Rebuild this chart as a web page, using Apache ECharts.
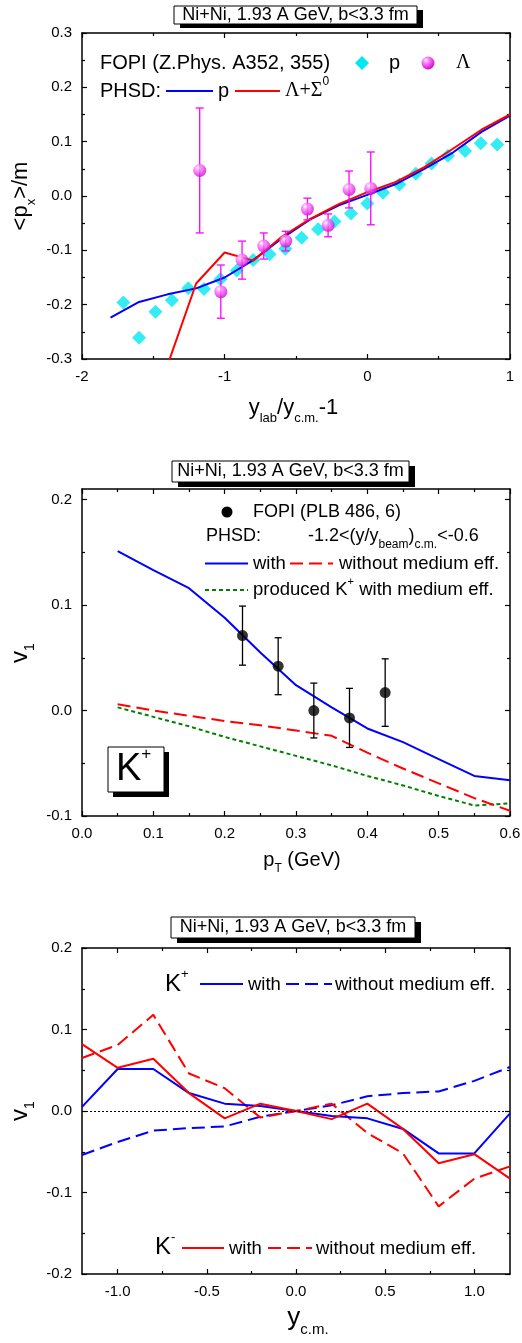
<!DOCTYPE html>
<html><head><meta charset="utf-8">
<script src="https://cdn.jsdelivr.net/npm/echarts@6/dist/echarts.min.js"></script>
<style>html,body{margin:0;padding:0;background:#fff}#c{width:522px;height:1343px}</style>
</head><body><div id="c"></div>
<script>
// ---------- Panel 1: <px>/m vs ylab/ycm-1 ----------
const p1ProtonX = [-1.71,-1.60,-1.485,-1.37,-1.255,-1.145,-1.03,-0.915,-0.80,-0.685,-0.575,-0.46,-0.345,-0.23,-0.115,0.0,0.11,0.225,0.34,0.45,0.565,0.685,0.795,0.91];
const p1ProtonY = [-0.196,-0.261,-0.213,-0.192,-0.170,-0.171,-0.153,-0.137,-0.118,-0.107,-0.097,-0.077,-0.061,-0.047,-0.032,-0.014,0.006,0.021,0.041,0.060,0.074,0.083,0.097,0.095];
const p1LambdaX = [-1.175,-1.027,-0.878,-0.726,-0.572,-0.42,-0.275,-0.128,0.024];
const p1LambdaY = [0.047,-0.176,-0.118,-0.092,-0.083,-0.024,-0.054,0.012,0.014];
const p1LambdaErr = [0.115,0.049,0.035,0.024,0.018,0.020,0.021,0.034,0.067];
const p1PhsdPX = [-1.8,-1.6,-1.4,-1.2,-1.0,-0.8,-0.6,-0.4,-0.2,0.0,0.2,0.4,0.6,0.8,1.0];
const p1PhsdPY = [-0.224,-0.195,-0.181,-0.170,-0.150,-0.118,-0.078,-0.043,-0.017,0.002,0.022,0.050,0.080,0.118,0.148];
const p1PhsdLX = [-1.4,-1.2,-1.0,-0.8,-0.6,-0.4,-0.2,0.0,0.2,0.4,0.6,0.8,1.0];
const p1PhsdLY = [-0.311,-0.161,-0.104,-0.119,-0.075,-0.042,-0.015,0.007,0.026,0.053,0.087,0.122,0.150];
const p1XMajor = [-2,-1,0,1], p1XMinor = [-1.5,-0.5,0.5];
const p1YMajor = [-0.3,-0.2,-0.1,0,0.1,0.2,0.3], p1YMinor = [-0.25,-0.15,-0.05,0.05,0.15,0.25];

// ---------- Panel 2: K+ v1 vs pT ----------
const p2FopiX = [0.225,0.275,0.325,0.375,0.425];
const p2FopiY = [0.071,0.042,0.000,-0.007,0.017];
const p2FopiErr = [0.028,0.027,0.026,0.028,0.032];
const p2PtX = [0.05,0.10,0.15,0.20,0.25,0.30,0.35,0.40,0.45,0.50,0.55,0.60];
const p2WithY = [0.151,0.133,0.116,0.088,0.055,0.024,0.003,-0.017,-0.030,-0.046,-0.062,-0.066];
const p2WithoutY = [0.006,0.000,-0.005,-0.010,-0.014,-0.019,-0.024,-0.040,-0.055,-0.069,-0.083,-0.095];
const p2ProducedY = [0.003,-0.006,-0.015,-0.025,-0.034,-0.043,-0.052,-0.062,-0.071,-0.081,-0.090,-0.088];
const p2XMajor = [0,0.1,0.2,0.3,0.4,0.5,0.6], p2XMinor = [0.05,0.15,0.25,0.35,0.45,0.55];
const p2YMajor = [-0.1,0,0.1,0.2], p2YMinor = [-0.05,0.05,0.15];

// ---------- Panel 3: v1 vs ycm ----------
const p3X = [-1.2,-1.0,-0.8,-0.6,-0.4,-0.2,0.0,0.2,0.4,0.6,0.8,1.0,1.2];
const p3KpWith = [0.005,0.0515,0.0515,0.022,0.009,0.006,0.0,-0.006,-0.009,-0.022,-0.052,-0.052,-0.003];
const p3KpWithout = [-0.054,-0.038,-0.024,-0.021,-0.019,-0.007,0.0,0.007,0.018,0.022,0.024,0.037,0.054];
const p3KmWith = [0.082,0.053,0.064,0.022,-0.009,0.009,0.0,-0.010,0.009,-0.022,-0.064,-0.053,-0.083];
const p3KmWithout = [0.065,0.081,0.118,0.046,0.028,-0.008,0.0,0.009,-0.027,-0.052,-0.117,-0.083,-0.068];
const p3XMajor = [-1,-0.5,0,0.5,1], p3XMinor = [-0.75,-0.25,0.25,0.75];
const p3YMajor = [-0.2,-0.1,0,0.1,0.2], p3YMinor = [-0.15,-0.05,0.05,0.15];

const FONT = "'Liberation Sans', Arial, sans-serif";
const SERIF = "'Liberation Serif', 'Times New Roman', serif";
const zip = (a, b) => a.map((v, i) => [v, b[i]]);
const errData = (x, y, e) => x.map((v, i) => [v, y[i] - e[i], y[i] + e[i]]);
const fmt1 = v => (Math.abs(v) < 1e-9 ? 0 : v).toFixed(1);
const fmt0 = v => String(Math.round(v));

function axisSet(gi, dim, min, max, majors, minors, fmt) {
  const pos = dim === 'x' ? ['bottom', 'top'] : ['left', 'right'];
  const base = {type: 'value', gridIndex: gi, min: min, max: max, splitLine: {show: false}, minorTick: {show: false}};
  const line = {show: true, onZero: false, lineStyle: {color: '#000', width: 1.5}};
  const noLine = {show: false, onZero: false};
  const tickStyle = {color: '#000', width: 1.2};
  const major = {show: true, inside: true, length: 5, customValues: majors, lineStyle: tickStyle};
  const minor = {show: true, inside: true, length: 3, customValues: minors, lineStyle: tickStyle};
  return [
    Object.assign({}, base, {position: pos[0], axisLine: line, axisTick: major,
      axisLabel: {show: true, customValues: majors, formatter: fmt, color: '#000', fontSize: 15, fontFamily: FONT, margin: 10}}),
    Object.assign({}, base, {position: pos[1], axisLine: line, axisTick: major, axisLabel: {show: false}}),
    Object.assign({}, base, {position: pos[0], axisLine: noLine, axisTick: minor, axisLabel: {show: false}}),
    Object.assign({}, base, {position: pos[1], axisLine: noLine, axisTick: minor, axisLabel: {show: false}})
  ];
}

function errBar(color, w, cap) {
  return function (params, api) {
    const x = api.value(0), lo = api.value(1), hi = api.value(2);
    const a = api.coord([x, hi]), b = api.coord([x, lo]);
    const st = {stroke: color, lineWidth: w};
    return {type: 'group', children: [
      {type: 'line', shape: {x1: a[0], y1: a[1], x2: b[0], y2: b[1]}, style: st},
      {type: 'line', shape: {x1: a[0] - cap, y1: a[1], x2: a[0] + cap, y2: a[1]}, style: st},
      {type: 'line', shape: {x1: b[0] - cap, y1: b[1], x2: b[0] + cap, y2: b[1]}, style: st}
    ]};
  };
}

const sphereFill = {type: 'radial', x: 0.35, y: 0.3, r: 0.75, global: false,
  colorStops: [{offset: 0, color: '#ffffff'}, {offset: 0.3, color: '#ff80ff'}, {offset: 1, color: '#cc00cc'}]};

function rich(main, sub, lh) {
  return {
    n: {fontSize: main, fontFamily: FONT, lineHeight: lh, verticalAlign: 'middle', fill: '#000', color: '#000'},
    g: {fontSize: main, fontFamily: SERIF, lineHeight: lh, verticalAlign: 'middle', fill: '#000', color: '#000'},
    s: {fontSize: sub, fontFamily: FONT, lineHeight: sub, verticalAlign: 'bottom', fill: '#000', color: '#000'},
    u: {fontSize: sub, fontFamily: FONT, lineHeight: sub, verticalAlign: 'top', fill: '#000', color: '#000'}
  };
}
function rtext(x, y, text, main, sub, lh, align, rot) {
  return {type: 'text', x: x, y: y, rotation: rot || 0, z: 100,
    style: {text: text, rich: rich(main, sub, lh), align: align || 'left', textAlign: align || 'left',
      verticalAlign: 'middle', textVerticalAlign: 'middle', fill: '#000'}};
}
function ptext(x, y, text, size, align) {
  return {type: 'text', x: x, y: y, z: 100,
    style: {text: text, font: size + 'px ' + FONT, fill: '#000', align: align || 'left', textAlign: align || 'left',
      verticalAlign: 'middle', textVerticalAlign: 'middle'}};
}
function box(x, y, w, h, sx, sy) {
  return [
    {type: 'rect', z: 90, shape: {x: x + sx, y: y + sy, width: w, height: h}, style: {fill: '#000'}},
    {type: 'rect', z: 91, shape: {x: x, y: y, width: w, height: h}, style: {fill: '#fff', stroke: '#000', lineWidth: 1}}
  ];
}
function seg(x1, x2, y, color, dash) {
  return {type: 'line', z: 100, shape: {x1: x1, y1: y, x2: x2, y2: y},
    style: {stroke: color, lineWidth: 2, lineDash: dash || null}};
}

const TITLE = 'Ni+Ni, 1.93 A GeV, b<3.3 fm';
const DASH = [13, 6], DOT = [4, 3];

const graphics = [].concat(
  box(174, 6, 243, 18, 6, 4), [ptext(295.5, 15.5, TITLE, 18, 'center')],
  box(172, 461, 237, 21, 6, 5), [ptext(290.5, 471.5, TITLE, 18, 'center')],
  box(171, 917, 244, 21, 6, 5), [ptext(293, 927.5, TITLE, 18, 'center')],
  // panel 1 legend
  [ptext(100, 63, 'FOPI (Z.Phys. A352, 355)', 20),
   {type: 'polygon', z: 100, shape: {points: [[362, 56], [369, 63], [362, 70], [355, 63]]}, style: {fill: '#00e8f0'}},
   ptext(389, 63, 'p', 20),
   {type: 'circle', z: 100, shape: {cx: 428, cy: 63, r: 6.5}, style: {fill: sphereFill}},
   rtext(456, 63, '{g|Λ}', 20, 13, 26),
   ptext(100, 91, 'PHSD:', 20),
   seg(166, 213, 91, '#0000ff'),
   ptext(218, 91, 'p', 20),
   seg(235, 280, 91, '#ff0000'),
   rtext(285, 91, '{g|Λ+Σ}{u|0}', 20, 12, 30)],
  // panel 2 legend
  [{type: 'circle', z: 100, shape: {cx: 227, cy: 512, r: 5.5}, style: {fill: '#000'}},
   ptext(253, 512.5, 'FOPI (PLB 486, 6)', 18),
   ptext(206, 536, 'PHSD:', 18),
   rtext(308, 536, '{n|-1.2<(y/y}{s|beam}{n|)}{s|c.m.}{n|<-0.6}', 18, 12, 30),
   seg(205, 248, 563.5, '#0000ff'),
   ptext(253, 563.5, 'with', 18.5),
   seg(290, 333, 563.5, '#ff0000', DASH),
   ptext(339, 563.5, 'without medium eff.', 18.5),
   seg(205, 248, 590, '#008000', DOT),
   rtext(253, 590, '{n|produced K}{u|+}{n| with medium eff.}', 18.5, 11, 28)],
  box(108, 747, 56, 45, 5, 5),
  [rtext(116, 770, '{n|K}{u|+}', 38, 17, 48)],
  // panel 3 legend
  [rtext(165, 984, '{n|K}{u|+}', 24, 13, 32),
   seg(200, 243, 984, '#0000ff'),
   ptext(248, 985, 'with', 18.5),
   seg(286, 332, 984, '#0000ff', DASH),
   ptext(335, 985, 'without medium eff.', 18.5),
   rtext(155, 1247, '{n|K}{u|-}', 24, 13, 32),
   seg(182, 224, 1248, '#ff0000'),
   ptext(229, 1249, 'with', 18.5),
   seg(268, 312, 1248, '#ff0000', DASH),
   ptext(316, 1249, 'without medium eff.', 18.5)],
  // axis titles
  [rtext(293.5, 408, '{n|y}{s|lab}{n|/y}{s|c.m.}{n|-1}', 22, 13, 33, 'center'),
   rtext(21, 196, '{n|<p}{s|x}{n|>/m}', 22, 13, 33, 'center', Math.PI / 2),
   rtext(20, 653, '{n|v}{s|1}', 24, 14, 34, 'center', Math.PI / 2),
   rtext(302, 860, '{n|p}{s|T}{n| (GeV)}', 20, 12, 30, 'center'),
   rtext(20, 1111, '{n|v}{s|1}', 24, 14, 34, 'center', Math.PI / 2),
   rtext(308, 1318, '{n|y}{s|c.m.}', 26, 15, 38, 'center')]
);

const xAxes = [].concat(
  axisSet(0, 'x', -2, 1, p1XMajor, p1XMinor, fmt0),
  axisSet(1, 'x', 0, 0.6, p2XMajor, p2XMinor, fmt1),
  axisSet(2, 'x', -1.2, 1.2, p3XMajor, p3XMinor, fmt1)
);
const yAxes = [].concat(
  axisSet(0, 'y', -0.3, 0.3, p1YMajor, p1YMinor, fmt1),
  axisSet(1, 'y', -0.1, 0.21, p2YMajor, p2YMinor, fmt1),
  axisSet(2, 'y', -0.2, 0.2, p3YMajor, p3YMinor, fmt1)
);

const lineS = (gi, data, color, dash, z) => ({type: 'line', xAxisIndex: 4 * gi, yAxisIndex: 4 * gi, data: data,
  symbol: 'none', clip: true, z: z || 3, lineStyle: {color: color, width: 2, type: dash || 'solid'}, itemStyle: {color: color}});

const option = {
  animation: false,
  backgroundColor: '#fff',
  grid: [
    {left: 82, right: 12, top: 33, height: 326, outerBoundsMode: 'none'},
    {left: 82, right: 12, top: 489, height: 327, outerBoundsMode: 'none'},
    {left: 82, right: 12, top: 948, height: 326, outerBoundsMode: 'none'}
  ],
  xAxis: xAxes,
  yAxis: yAxes,
  graphic: {elements: graphics},
  series: [
    {type: 'scatter', xAxisIndex: 0, yAxisIndex: 0, data: zip(p1ProtonX, p1ProtonY), symbol: 'diamond',
      symbolSize: 14, itemStyle: {color: '#00e8f0'}, z: 2},
    lineS(0, zip(p1PhsdPX, p1PhsdPY), '#0000ff', null, 3),
    lineS(0, zip(p1PhsdLX, p1PhsdLY), '#ff0000', null, 4),
    {type: 'custom', xAxisIndex: 0, yAxisIndex: 0, data: errData(p1LambdaX, p1LambdaY, p1LambdaErr),
      encode: {x: 0, y: [1, 2]}, renderItem: errBar('#ff00ff', 1.3, 4), z: 5},
    {type: 'scatter', xAxisIndex: 0, yAxisIndex: 0, data: zip(p1LambdaX, p1LambdaY), symbol: 'circle',
      symbolSize: 13, itemStyle: {color: sphereFill}, z: 6},

    lineS(1, zip(p2PtX, p2ProducedY), '#008000', DOT, 3),
    lineS(1, zip(p2PtX, p2WithoutY), '#ff0000', DASH, 3),
    lineS(1, zip(p2PtX, p2WithY), '#0000ff', null, 4),
    {type: 'custom', xAxisIndex: 4, yAxisIndex: 4, data: errData(p2FopiX, p2FopiY, p2FopiErr),
      encode: {x: 0, y: [1, 2]}, renderItem: errBar('#000000', 1.3, 3.5), z: 5},
    {type: 'scatter', xAxisIndex: 4, yAxisIndex: 4, data: zip(p2FopiX, p2FopiY), symbol: 'circle',
      symbolSize: 11, itemStyle: {color: '#000'}, z: 6},

    Object.assign(lineS(2, zip(p3X, p3KpWith), '#0000ff', null, 4), {
      markLine: {silent: true, symbol: 'none', label: {show: false}, animation: false,
        lineStyle: {color: '#000', width: 1, type: [2, 2]}, data: [{yAxis: 0}]}}),
    lineS(2, zip(p3X, p3KpWithout), '#0000ff', DASH, 3),
    lineS(2, zip(p3X, p3KmWith), '#ff0000', null, 4),
    lineS(2, zip(p3X, p3KmWithout), '#ff0000', DASH, 3)
  ]
};
const chart = echarts.init(document.getElementById('c'), null, {renderer: 'canvas'});
chart.setOption(option);
</script></body></html>
